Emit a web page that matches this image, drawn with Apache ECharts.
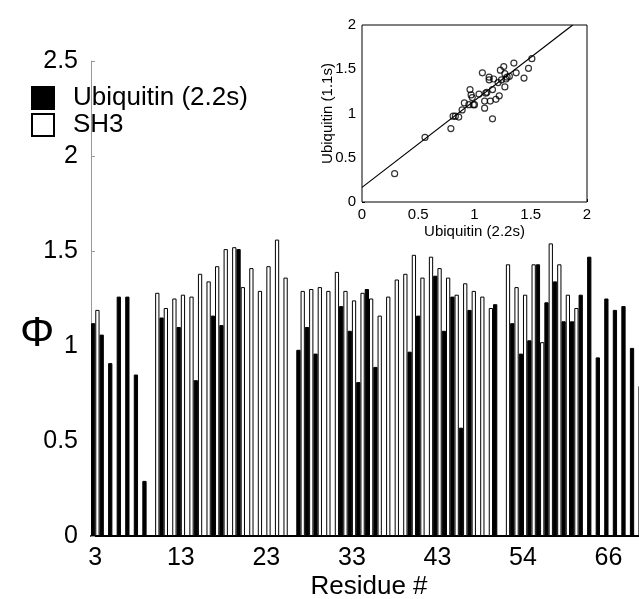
<!DOCTYPE html>
<html>
<head>
<meta charset="utf-8">
<script src="https://cdn.jsdelivr.net/npm/echarts@6/dist/echarts.min.js"></script>
<style>html,body{margin:0;padding:0;background:#fff}#c{width:639px;height:599px}</style>
</head>
<body>
<div id="c"></div>
<script>
// Residue numbers (one per bar slot)
var residues = [3,4,5,6,7,8,9,10,11,12,13,14,15,16,17,18,19,20,21,22,23,24,25,26,27,28,29,30,31,32,33,34,35,36,37,38,39,40,41,42,43,
  44,45,46,47,48,50,51,52,53,54,55,56,57,58,60,61,62,64,65,66,67,68,69,70];
var labelResidues = [3,13,23,33,43,54,66];
// Phi values, Ubiquitin (2.2s) - black bars
var ubiquitin = [1.12,1.06,0.91,1.26,1.26,0.85,0.29,null,1.15,null,
  1.10,null,0.82,null,1.16,1.11,null,1.51,null,null,
  null,null,null,null,0.98,1.10,0.96,null,null,1.21,
  1.08,0.81,1.30,0.89,null,null,null,0.97,1.16,null,
  1.37,1.08,1.26,0.57,1.19,null,null,1.22,null,1.12,
  0.96,1.03,1.43,1.23,1.34,1.13,1.13,1.27,1.47,0.94,
  1.25,1.19,1.21,0.99,0.79];
// Phi values, SH3 - white bars
var sh3 = [1.19,null,null,null,null,null,null,1.28,1.20,1.25,
  1.27,1.26,1.38,1.34,1.42,1.51,1.52,1.31,1.41,1.29,
  1.42,1.56,1.36,null,1.29,1.30,1.31,1.29,1.39,1.29,
  1.24,1.28,1.25,1.16,1.26,1.35,1.38,1.48,1.36,1.47,
  1.41,1.36,1.27,1.33,1.29,1.26,1.20,null,1.43,1.31,
  1.27,1.43,1.02,1.54,1.43,1.27,1.20,null,null,null,
  null,null,null,null,null];
// Inset scatter: Ubiquitin 2.2s (x) vs 1.1s (y)
var insetX = [0.29,0.56,0.79,0.81,0.83,0.86,0.89,0.91,0.95,0.96,0.97,0.98,0.99,1.00,1.04,1.07,1.09,1.09,1.10,1.11,1.13,1.13,1.14,1.16,1.16,1.17,1.19,1.21,1.22,1.23,1.24,1.26,1.27,1.27,1.28,1.29,1.31,1.35,1.37,1.44,1.48,1.51];
var insetY = [0.32,0.73,0.83,0.97,0.97,0.96,1.04,1.12,1.10,1.27,1.21,1.18,1.10,1.10,1.22,1.46,1.06,1.14,1.23,1.24,1.41,1.38,1.14,0.94,1.27,1.39,1.16,1.35,1.20,1.49,1.38,1.53,1.45,1.30,1.39,1.41,1.42,1.57,1.46,1.40,1.51,1.62];
var fitX = [0, 1.873];
var fitY = [0.165, 2.0];

var FONT = '"Liberation Sans", Arial, Helvetica, sans-serif';
var chart = echarts.init(document.getElementById('c'), null, {renderer: 'canvas'});
var insetPts = insetX.map(function (x, i) { return [x, insetY[i]]; });
var fitPts = fitX.map(function (x, i) { return [x, fitY[i]]; });

chart.setOption({
  animation: false,
  backgroundColor: '#fff',
  textStyle: {fontFamily: FONT, color: '#000'},
  legend: {
    orient: 'vertical', left: 31, top: 85, padding: 0, itemWidth: 22, itemHeight: 22, itemGap: 1,
    icon: 'rect', selectedMode: false,
    data: ['Ubiquitin (2.2s)', 'SH3'],
    textStyle: {fontFamily: FONT, fontSize: 26, color: '#000', lineHeight: 23, padding: [0, 0, 0, 14]}
  },
  graphic: [{
    type: 'text', left: 20, top: 313,
    style: {text: 'Φ', fontFamily: FONT, fontSize: 43, fill: '#000'}
  }],
  grid: [
    {left: 91, right: -8, top: 61, bottom: 63, outerBoundsMode: 'none', containLabel: false},
    {left: 362, top: 25, width: 225, height: 177, outerBoundsMode: 'none', containLabel: false,
     show: true, backgroundColor: '#fff', borderColor: '#000', borderWidth: 1, z: 5}
  ],
  xAxis: [{
    type: 'category', gridIndex: 0, data: residues,
    axisLine: {lineStyle: {color: '#000', width: 2}},
    axisTick: {show: false},
    axisLabel: {
      interval: function (idx, val) { return labelResidues.indexOf(Number(val)) >= 0; },
      fontFamily: FONT, fontSize: 25, color: '#000', margin: 10
    },
    name: 'Residue #', nameLocation: 'middle', nameGap: 38, nameMoveOverlap: false,
    nameTextStyle: {fontFamily: FONT, fontSize: 26, color: '#000'}
  }, {
    type: 'value', gridIndex: 1, min: 0, max: 2, interval: 0.5,
    axisLine: {show: false},
    axisTick: {show: true, inside: true, length: 3, lineStyle: {color: '#000'}},
    splitLine: {show: false},
    axisLabel: {fontFamily: FONT, fontSize: 15, color: '#000', margin: 5},
    name: 'Ubiquitin (2.2s)', nameLocation: 'middle', nameGap: 22, nameMoveOverlap: false,
    nameTextStyle: {fontFamily: FONT, fontSize: 15, color: '#000'}
  }],
  yAxis: [{
    type: 'value', gridIndex: 0, min: 0, max: 2.5, interval: 0.5,
    axisLine: {show: true, lineStyle: {color: '#999', width: 1}},
    axisTick: {show: true, inside: true, length: 4, lineStyle: {color: '#999'}},
    splitLine: {show: false},
    axisLabel: {fontFamily: FONT, fontSize: 25, color: '#000', margin: 13}
  }, {
    type: 'value', gridIndex: 1, min: 0, max: 2, interval: 0.5,
    axisLine: {show: false},
    axisTick: {show: true, inside: true, length: 3, lineStyle: {color: '#000'}},
    splitLine: {show: false},
    axisLabel: {fontFamily: FONT, fontSize: 15, color: '#000', margin: 6, padding: [0, 0, 8, 0]},
    name: 'Ubiquitin (1.1s)', nameLocation: 'middle', nameGap: 27, nameMoveOverlap: false,
    nameTextStyle: {fontFamily: FONT, fontSize: 15, color: '#000'}
  }],
  series: [{
    name: 'Ubiquitin (2.2s)', type: 'bar', xAxisIndex: 0, yAxisIndex: 0,
    data: ubiquitin, barGap: '0%', barCategoryGap: '0%',
    itemStyle: {color: '#000', borderColor: '#000', borderWidth: 1}
  }, {
    name: 'SH3', type: 'bar', xAxisIndex: 0, yAxisIndex: 0,
    data: sh3, barGap: '0%', barCategoryGap: '0%',
    itemStyle: {color: '#fff', borderColor: '#000', borderWidth: 1}
  }, {
    name: 'fit', type: 'line', xAxisIndex: 1, yAxisIndex: 1, data: fitPts,
    symbol: 'none', lineStyle: {color: '#000', width: 1.2}, z: 6, clip: true
  }, {
    name: 'points', type: 'scatter', xAxisIndex: 1, yAxisIndex: 1, data: insetPts,
    symbol: 'circle', symbolSize: 6,
    itemStyle: {color: 'rgba(255,255,255,0)', borderColor: '#000', borderWidth: 1.2}, z: 7
  }]
});
</script>
</body>
</html>
